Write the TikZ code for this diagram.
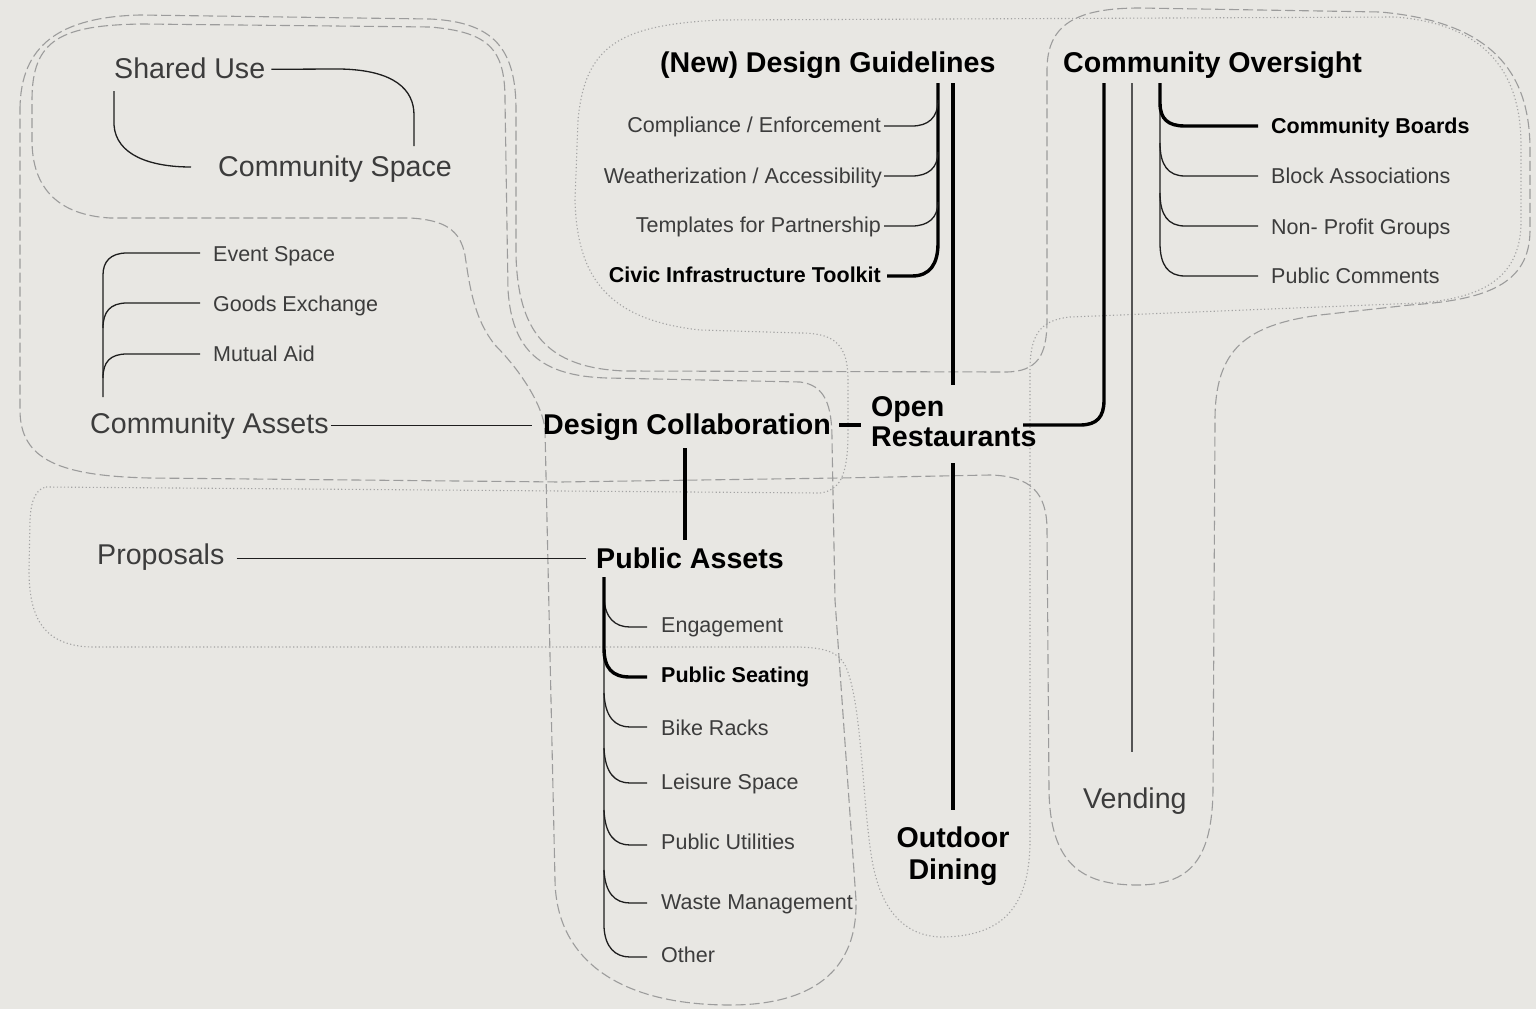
\documentclass[tikz,border=0pt]{standalone}
\usepackage{fontspec}
\setmainfont{Liberation Sans}
\definecolor{bgc}{HTML}{E8E7E3}
\definecolor{txtgray}{HTML}{3C3C3C}
\definecolor{outgray}{HTML}{9C9C9C}
\definecolor{dotgray}{HTML}{A4A4A4}
\definecolor{lineblk}{HTML}{1E1E1E}
\definecolor{vendgray}{HTML}{555555}
\begin{document}
\begin{tikzpicture}[x=1pt,y=-1pt,
  bigt/.style={font=\fontsize{28.6}{30}\selectfont, text=txtgray, inner sep=0pt, anchor=base west},
  bigb/.style={font=\fontsize{28.6}{30}\selectfont\bfseries, text=black, inner sep=0pt, anchor=base west},
  smallt/.style={font=\fontsize{21.5}{24}\selectfont, text=txtgray, inner sep=0pt, anchor=base west},
  smallb/.style={font=\fontsize{21.5}{24}\selectfont\bfseries, text=black, inner sep=0pt, anchor=base west},
  thinln/.style={draw=lineblk, line width=1.3pt},
  thickln/.style={draw=black, line width=3.4pt},
  vendln/.style={draw=vendgray, line width=1.4pt},
  dashln/.style={draw=outgray, line width=1.1pt, dash pattern=on 10pt off 4pt},
  dotln/.style={draw=dotgray, line width=1.1pt, dash pattern=on 1.2pt off 2.4pt}
]
\useasboundingbox (0,0) rectangle (1536,1009);
\fill[bgc] (0,0) rectangle (1536,1009);

% ---------- outlines ----------
% big dashed loop
\draw[dashln] (20,110) .. controls (20,45) and (60,17) .. (140,15) -- (430,19)
  .. controls (495,22) and (516,50) .. (516,110) -- (516,255)
  .. controls (518,330) and (545,368) .. (625,371) -- (1005,372)
  .. controls (1038,372) and (1047,355) .. (1047,320) -- (1047,70)
  .. controls (1047,25) and (1075,8) .. (1140,8) -- (1380,12)
  .. controls (1495,22) and (1530,75) .. (1530,150) -- (1530,230)
  .. controls (1530,285) and (1485,300) .. (1410,305) -- (1320,315)
  .. controls (1245,325) and (1215,350) .. (1215,420) -- (1213,790)
  .. controls (1212,860) and (1190,885) .. (1137,885)
  .. controls (1080,885) and (1050,862) .. (1049,790) -- (1047,530)
  .. controls (1047,492) and (1030,476) .. (990,475) -- (840,478) -- (560,482) -- (150,478)
  .. controls (60,476) and (20,460) .. (20,410) -- cycle;
% inner dashed loop
\draw[dashln] (32,100) .. controls (32,40) and (60,25) .. (143,24) -- (430,27)
  .. controls (490,32) and (505,50) .. (505,100) -- (508,290)
  .. controls (512,350) and (540,376) .. (607,378) -- (800,382)
  .. controls (825,385) and (832,405) .. (832,440) -- (835,600) -- (856,900)
  .. controls (858,980) and (800,1005) .. (730,1005)
  .. controls (620,1005) and (556,960) .. (555,880) -- (545,430)
  .. controls (543,405) and (520,370) .. (495,345)
  .. controls (475,320) and (470,290) .. (465,255)
  .. controls (460,230) and (445,220) .. (410,218) -- (110,218)
  .. controls (60,215) and (32,190) .. (32,140) -- cycle;
% dotted loop
\draw[dotln] (46,487) -- (820,493) .. controls (843,490) and (848,470) .. (848,430) -- (848,380)
  .. controls (848,345) and (835,333) .. (800,333) -- (700,330)
  .. controls (610,320) and (577,280) .. (575,200) -- (578,120)
  .. controls (585,45) and (620,25) .. (720,20) -- (1395,17)
  .. controls (1488,24) and (1521,75) .. (1521,145) -- (1521,225)
  .. controls (1519,280) and (1480,298) .. (1420,303) -- (1070,317)
  .. controls (1040,320) and (1030,335) .. (1030,370) -- (1030,840)
  .. controls (1030,910) and (1000,937) .. (940,937)
  .. controls (900,935) and (880,905) .. (872,860)
  .. controls (862,800) and (862,700) .. (845,665)
  .. controls (838,652) and (825,648) .. (800,647) -- (90,647)
  .. controls (45,645) and (29,620) .. (29,570) -- (30,520)
  .. controls (31,500) and (36,489) .. (46,487) -- cycle;

% ---------- nodes ----------
\node[bigt] (shared) at (114,78) {Shared Use};
\node[bigt] (cspace) at (218,176) {Community Space};
\node[bigt] (cassets) at (90,433) {Community Assets};
\node[bigt] (proposals) at (97,564) {Proposals};
\node[bigt] (vending) at (1083,808) {Vending};
\node[bigb] (guide) at (660,72) {(New) Design Guidelines};
\node[bigb] (overs) at (1063,72) {Community Oversight};
\node[bigb] (collab) at (543,434) {Design Collaboration};
\node[bigb, anchor=west, align=left] (open) at (871,421.5) {Open\\Restaurants};
\node[bigb, anchor=center, align=center, font=\fontsize{28.6}{32}\selectfont\bfseries] (outdoor) at (953,856.5) {Outdoor\\Dining};
\node[bigb] (pubassets) at (596,568) {Public Assets};

\node[smallt, anchor=base east] (comp) at (881,132) {Compliance / Enforcement};
\node[smallt, anchor=base east] (weath) at (882,183) {Weatherization / Accessibility};
\node[smallt, anchor=base east] (templ) at (881,232) {Templates for Partnership};
\node[smallb, anchor=base east] (civic) at (881,282) {Civic Infrastructure Toolkit};

\node[smallb] (boards) at (1271,133) {Community Boards};
\node[smallt] (block) at (1271,183) {Block Associations};
\node[smallt] (nonprofit) at (1271,234) {Non- Profit Groups};
\node[smallt] (comments) at (1271,283) {Public Comments};

\node[smallt] (event) at (213,261) {Event Space};
\node[smallt] (goods) at (213,311) {Goods Exchange};
\node[smallt] (mutual) at (213,361) {Mutual Aid};

\node[smallt] (engage) at (661,632) {Engagement};
\node[smallb] (seating) at (661,682) {Public Seating};
\node[smallt] (bike) at (661,735) {Bike Racks};
\node[smallt] (leisure) at (661,789) {Leisure Space};
\node[smallt] (utilities) at (661,849) {Public Utilities};
\node[smallt] (waste) at (661,909) {Waste Management};
\node[smallt] (other) at (661,962) {Other};

% ---------- connectors ----------
% Shared Use <-> Community Space
\draw[thinln] (shared.east) ++(6,1.5) -- (340,69) .. controls (395,70) and (414,90) .. (414,115) -- (414,146);
\draw[thinln] (114,91) -- (114,125) .. controls (116,155) and (150,167) .. (191,167);

% Community Assets tree
\draw[thinln] (103,397) -- (103,275) .. controls (103,262) and (110,253) .. (127,253) -- (200,253);
\draw[thinln] (103,328) .. controls (103,312) and (110,303) .. (127,303) -- (200,303);
\draw[thinln] (103,378) .. controls (103,362) and (110,354) .. (127,354) -- (200,354);

% horizontal links
\draw[thinln, shorten <=2pt, shorten >=11pt] (cassets.east) -- (cassets.east -| collab.west);
\draw[thinln, shorten <=12pt, shorten >=10pt] (proposals.east) ++(0,2) -- ([yshift=-2pt]proposals.east -| pubassets.west);
\coordinate (collabR) at (839,425);
\coordinate (openL) at (861,425);
\draw[thickln] (collabR) -- (openL);

% Design Collaboration -> Public Assets
\draw[thickln] (685,448) -- (685,540);

% Design Guidelines tree
\draw[thickln] (938,83) -- (938,243) .. controls (938,264) and (930,276) .. (912,276) -- (887,276);
\draw[thinln] (884,126) -- (912,126) .. controls (928,126) and (938,118) .. (938,100);
\draw[thinln] (884,176) -- (912,176) .. controls (928,176) and (938,168) .. (938,152);
\draw[thinln] (884,226) -- (912,226) .. controls (928,226) and (938,218) .. (938,202);

% Design Guidelines -> Open Restaurants -> Outdoor Dining
\draw[thickln] (953,83) -- (953,385);
\draw[thickln] (953,463) -- (953,810);

% Open Restaurants -> Community Oversight
\draw[thickln] (1023,425) -- (1080,425) .. controls (1097,425) and (1104,417) .. (1104,400) -- (1104,83);

% Community Oversight -> Vending
\draw[vendln] (1132,83) -- (1132,752);

% Community Oversight tree
\draw[thinln] (1160,100) -- (1160,243) .. controls (1160,265) and (1168,276) .. (1185,276) -- (1258,276);
\draw[thinln] (1160,143) .. controls (1160,165) and (1168,176) .. (1185,176) -- (1258,176);
\draw[thinln] (1160,193) .. controls (1160,215) and (1168,226) .. (1185,226) -- (1258,226);
\draw[thickln] (1160,83) -- (1160,103) .. controls (1160,119) and (1168,126) .. (1185,126) -- (1258,126);

% Public Assets tree
\draw[thinln] (604,640) -- (604,927) .. controls (605,947) and (615,957) .. (630,957) -- (647,957);
\draw[thinln] (604,598) .. controls (605,618) and (615,627) .. (630,627) -- (647,627);
\draw[thinln] (604,693) .. controls (605,717) and (615,727) .. (630,727) -- (647,727);
\draw[thinln] (604,748) .. controls (605,773) and (615,783) .. (630,783) -- (647,783);
\draw[thinln] (604,810) .. controls (605,835) and (615,845) .. (630,845) -- (647,845);
\draw[thinln] (604,870) .. controls (605,893) and (615,903) .. (630,903) -- (647,903);
\draw[thickln] (604,577) -- (604,648) .. controls (604,668) and (612,677) .. (630,677) -- (647,677);
\end{tikzpicture}
\end{document}
